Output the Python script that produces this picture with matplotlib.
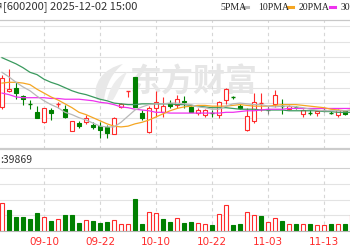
import matplotlib
matplotlib.use("Agg")
import matplotlib.pyplot as plt
from matplotlib.patches import Rectangle, PathPatch
from matplotlib.path import Path
from matplotlib.lines import Line2D
import numpy as np

# data (daily k-line, 600200)
stock_name = "江苏吴中"
header = "[600200] 2025-12-02 15:00"
vol_name = "成交量"
vol_last = ":39869"

dates = ["09-02", "09-03", "09-04", "09-05", "09-08", "09-09", "09-10", "09-11", "09-12", "09-15",
         "09-16", "09-17", "09-18", "09-19", "09-22", "09-23", "09-24", "09-25", "09-26", "09-29",
         "09-30", "10-09", "10-10", "10-13", "10-14", "10-15", "10-16", "10-17", "10-20", "10-21",
         "10-22", "10-23", "10-24", "10-27", "10-28", "10-29", "10-30", "10-31", "11-03", "11-04",
         "11-05", "11-06", "11-07", "11-10", "11-11", "11-12", "11-13", "11-14", "11-17", "11-18",
         "11-19"]

opens = [10.35, 10.56, 10.60, 10.49, 10.39, 10.28, 10.15, 10.31, 10.38, 10.32,
         10.04, 10.14, 10.15, 10.12, 10.10, 10.09, 10.00, 10.35, 10.55, 10.74,
         10.27, 10.02, 10.34, 10.28, 10.40, 10.37, 10.43, 10.35, 10.27, 10.25,
         10.27, 10.25, 10.44, 10.48, 10.36, 10.05, 10.17, 10.39, 10.31, 10.39,
         10.37, 10.32, 10.35, 10.26, 10.28, 10.27, 10.31, 10.28, 10.25, 10.30,
         10.27]
closes = [10.73, 10.58, 10.53, 10.45, 10.38, 10.21, 10.34, 10.27, 10.39, 10.22,
          10.17, 10.10, 10.21, 10.09, 10.05, 10.01, 10.21, 10.39, 10.56, 10.35,
          10.21, 10.34, 10.41, 10.36, 10.36, 10.45, 10.41, 10.28, 10.31, 10.31,
          10.26, 10.41, 10.58, 10.47, 10.34, 10.23, 10.41, 10.40, 10.31, 10.51,
          10.36, 10.36, 10.34, 10.31, 10.27, 10.30, 10.31, 10.27, 10.31, 10.26,
          10.44]
highs = [10.77, 10.84, 10.67, 10.51, 10.44, 10.36, 10.34, 10.34, 10.42, 10.37,
         10.17, 10.17, 10.25, 10.15, 10.15, 10.12, 10.22, 10.40, 10.56, 10.74,
         10.31, 10.36, 10.56, 10.48, 10.44, 10.51, 10.49, 10.36, 10.34, 10.32,
         10.31, 10.43, 10.60, 10.49, 10.39, 10.34, 10.53, 10.53, 10.36, 10.57,
         10.45, 10.37, 10.36, 10.32, 10.31, 10.31, 10.34, 10.30, 10.32, 10.31,
         10.49]
lows = [10.32, 10.54, 10.45, 10.37, 10.32, 10.21, 10.14, 10.18, 10.34, 10.21,
        10.04, 10.08, 10.13, 10.06, 9.95, 9.95, 10.00, 10.34, 10.48, 10.35,
        10.18, 10.01, 10.22, 10.22, 10.34, 10.34, 10.34, 10.28, 10.25, 10.22,
        10.22, 10.21, 10.39, 10.45, 10.32, 10.04, 10.14, 10.30, 10.26, 10.35,
        10.26, 10.31, 10.32, 10.22, 10.25, 10.23, 10.28, 10.26, 10.22, 10.25,
        10.26]

volumes = [55400, 42000, 28000, 28000, 23400, 36600, 28000, 20000, 24000, 32000,
           32000, 16600, 22000, 20000, 16600, 18600, 22000, 14000, 14600, 64000,
           14600, 37400, 35400, 24000, 18600, 26000, 16600, 18000, 16600, 14600,
           12000, 34000, 51400, 11400, 14600, 37400, 32600, 29400, 18000, 25400,
           20000, 14600, 14600, 14600, 13400, 12000, 12000, 14600, 13400, 14600,
           32000]
vol_up = [1, 0, 0, 0, 0, 0, 1, 0, 1, 0,
          0, 0, 1, 0, 0, 0, 1, 1, 1, 0,
          0, 1, 1, 0, 0, 1, 0, 0, 1, 1,
          0, 1, 1, 0, 0, 1, 1, 0, 1, 1,
          0, 1, 0, 1, 0, 1, 1, 0, 1, 0,
          1]

ma5 = [10.80, 10.74, 10.67, 10.61, 10.56, 10.49, 10.43, 10.38, 10.34, 10.28,
       10.25, 10.21, 10.18, 10.14, 10.10, 10.09, 10.09, 10.15, 10.23, 10.31,
       10.35, 10.38, 10.39, 10.39, 10.40, 10.40, 10.39, 10.38, 10.35, 10.34,
       10.32, 10.32, 10.36, 10.39, 10.40, 10.39, 10.38, 10.38, 10.36, 10.35,
       10.36, 10.36, 10.35, 10.34, 10.32, 10.31, 10.30, 10.30, 10.30, 10.30,
       10.31]
ma10 = [10.66, 10.67, 10.67, 10.66, 10.64, 10.58, 10.53, 10.48, 10.44, 10.39,
        10.34, 10.28, 10.25, 10.21, 10.17, 10.13, 10.10, 10.09, 10.10, 10.13,
        10.15, 10.18, 10.22, 10.26, 10.30, 10.33, 10.35, 10.36, 10.37, 10.37,
        10.36, 10.36, 10.36, 10.37, 10.38, 10.37, 10.36, 10.36, 10.36, 10.37,
        10.38, 10.38, 10.38, 10.37, 10.36, 10.35, 10.34, 10.32, 10.31, 10.30,
        10.31]
ma20 = [10.53, 10.51, 10.48, 10.47, 10.47, 10.47, 10.47, 10.46, 10.46, 10.45,
        10.45, 10.45, 10.44, 10.43, 10.41, 10.40, 10.38, 10.35, 10.34, 10.32,
        10.31, 10.30, 10.28, 10.28, 10.27, 10.27, 10.27, 10.27, 10.27, 10.27,
        10.27, 10.27, 10.28, 10.28, 10.29, 10.30, 10.30, 10.31, 10.32, 10.32,
        10.32, 10.33, 10.33, 10.33, 10.33, 10.33, 10.33, 10.33, 10.33, 10.33,
        10.33]
ma30 = [10.99, 10.95, 10.91, 10.86, 10.80, 10.77, 10.71, 10.67, 10.64, 10.60,
        10.56, 10.53, 10.51, 10.48, 10.45, 10.43, 10.40, 10.39, 10.38, 10.38,
        10.39, 10.39, 10.39, 10.39, 10.39, 10.38, 10.38, 10.37, 10.36, 10.35,
        10.34, 10.34, 10.34, 10.33, 10.32, 10.32, 10.32, 10.31, 10.31, 10.31,
        10.31, 10.30, 10.30, 10.30, 10.30, 10.30, 10.29, 10.29, 10.28, 10.28,
        10.28]

ma_names = ["5PMA", "10PMA", "20PMA", "30PMA"]

# colours
RED = "#ff2b2b"
GREEN = "#008000"
GREY = "#808080"
MA_COLORS = ["#b8b8b8", "#f5a623", "#ee33ee", "#3a9a5e"]
GRID = "#e3e3e3"
CJK = ["Noto Sans CJK SC", "DejaVu Sans"]

W, H = 350, 250


def fx(px):
    return px / W


def fy(py):
    return 1 - py / H


fig = plt.figure(figsize=(W / 100, H / 100), dpi=100)
ax = fig.add_axes([0, fy(149), 1, (149 - 20) / H])
axv = fig.add_axes([0, fy(231), 1, (231 - 168) / H], sharex=ax)

x = np.arange(len(dates))
ticks = list(range(6, len(dates), 8))

# price panel
ax.set_xlim(-2 / 7, 348 / 7)
ax.set_ylim(9.803, 11.48)
for v in np.arange(10.0, 11.41, 0.2):
    ax.axhline(v, color=GRID, lw=0.8, zorder=0)
for t in ticks:
    ax.axvline(t, color="#d6d6d6", lw=0.8, ls=(0, (3, 3)), zorder=0)
for s in ["left", "right"]:
    ax.spines[s].set_visible(False)
ax.spines["top"].set_color("#c8c8c8")
ax.spines["bottom"].set_color("#cccccc")
ax.spines["bottom"].set_linewidth(1.6)
ax.tick_params(left=False, bottom=False, labelleft=False, labelbottom=False)

# watermark
ax.text(fx(193), fy(83), "东方财富", transform=fig.transFigure, ha="center", va="center",
        fontsize=23, fontweight="bold", color="#e6e6e6", family=CJK, zorder=0.5)
logo = [
    (97, 100), (91, 84), (104, 68), (123, 64),
    (113, 72), (106, 84), (104, 100),
    (100, 100),
]
codes = [Path.MOVETO, Path.CURVE4, Path.CURVE4, Path.CURVE4,
         Path.CURVE4, Path.CURVE4, Path.CURVE4, Path.CLOSEPOLY]
verts = [(fx(a), fy(b)) for a, b in logo]
ax.add_patch(PathPatch(Path(verts, codes), transform=fig.transFigure, facecolor="#e8e8e8",
                       edgecolor="none", zorder=0.5))
logo2 = [
    (107, 100), (110, 86), (118, 76), (127, 72),
    (122, 82), (118, 92), (113, 100),
    (107, 100),
]
verts2 = [(fx(a), fy(b)) for a, b in logo2]
ax.add_patch(PathPatch(Path(verts2, codes), transform=fig.transFigure, facecolor="#ececec",
                       edgecolor="none", zorder=0.5))

# candles
bw = 0.6
for i in x:
    o, c, h, l = opens[i], closes[i], highs[i], lows[i]
    if c > o:
        col = RED
    elif c < o:
        col = GREEN
    else:
        col = GREY
    ax.vlines(i, l, h, color=col, lw=0.8, zorder=2)
    lo, hi = min(o, c), max(o, c)
    if hi - lo < 0.012:
        ax.hlines((o + c) / 2, i - bw / 2, i + bw / 2, color=col, lw=1.0, zorder=3)
    else:
        face = "white" if col == RED else col
        ax.add_patch(Rectangle((i - bw / 2, lo), bw, hi - lo, facecolor=face,
                               edgecolor=col, lw=0.8, zorder=3))

for ma, col in zip([ma30, ma20, ma10, ma5], MA_COLORS[::-1]):
    ax.plot(x, ma, color=col, lw=0.9, zorder=4)

# volume panel
axv.set_ylim(0, 126000)
for v in [31500, 63000, 94500]:
    axv.axhline(v, color=GRID, lw=0.8, zorder=0)
for t in ticks:
    axv.axvline(t, color="#d6d6d6", lw=0.8, ls=(0, (3, 3)), zorder=0)
for s in ["left", "right"]:
    axv.spines[s].set_visible(False)
axv.spines["top"].set_color("#d0d0d0")
axv.spines["bottom"].set_color("#b4b4b4")
vcols = [RED if u else GREEN for u in vol_up]
vface = ["white" if u else GREEN for u in vol_up]
axv.bar(x, volumes, width=bw, color=vface, edgecolor=vcols, lw=0.8, zorder=2)
axv.set_xticks(ticks)
axv.set_xticklabels([dates[t] for t in ticks])
axv.tick_params(left=False, labelleft=False, length=0, pad=4, labelsize=7.5, labelcolor=RED)

# header row
fig.text(fx(3), fy(7), header, ha="left", va="center", fontsize=8, color="#333333",
         family=CJK)
fig.text(fx(3), fy(7), stock_name, ha="right", va="center", fontsize=8, color="#333333",
         family=CJK)
fig.add_artist(Line2D([0, 1], [fy(20), fy(20)], color="#c8c8c8", lw=0.8))

# legend
leg_x = [220, 258, 299, 341]
dash_x = [243, 288, 330, 372]
for name, lx, dx, col in zip(ma_names, leg_x, dash_x, MA_COLORS):
    fig.text(fx(lx), fy(7), name, ha="left", va="center", fontsize=7, color="#222222",
             family="Liberation Serif")
    fig.add_artist(Line2D([fx(dx), fx(dx + 5)], [fy(7), fy(7)], color=col, lw=2.2))

# volume label
fig.text(fx(0.5), fy(160), vol_last, ha="left", va="center", fontsize=7.5, color="#333333",
         family=CJK)
fig.text(fx(0.5), fy(160), vol_name, ha="right", va="center", fontsize=7.5, color="#333333",
         family=CJK)

fig.savefig("out.png", dpi=100)
